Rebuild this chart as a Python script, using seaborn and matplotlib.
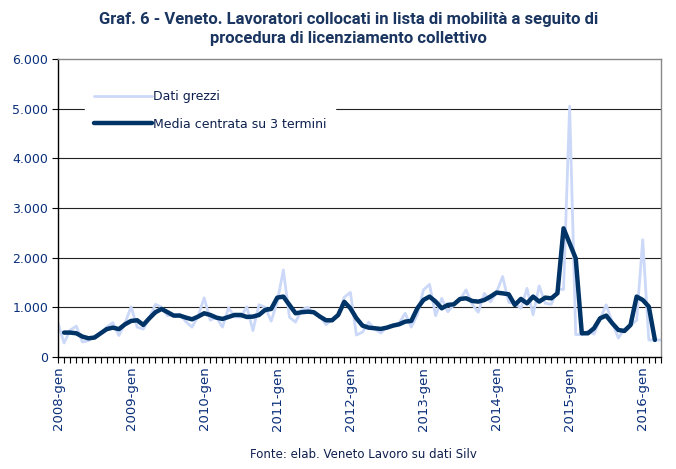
import matplotlib
matplotlib.use("Agg")
import matplotlib.pyplot as plt
from matplotlib import font_manager
from matplotlib.ticker import FuncFormatter, MultipleLocator
import pandas as pd
import seaborn as sns

# anni sull'asse x (etichette ogni 12 mesi, da gen 2008)
anni = ["2008", "2009", "2010", "2011", "2012", "2013", "2014", "2015", "2016"]

# dati grezzi mensili, gen 2008 - apr 2016
dati_grezzi = [
    680, 280, 540, 620, 300, 330, 420, 470, 600, 690, 430, 680,
    1010, 600, 560, 780, 1060, 1000, 830, 850, 860, 710, 600, 820,
    1190, 740, 800, 600, 990, 810, 800, 1010, 530, 1050, 1000, 720,
    1110, 1750, 800, 700, 950, 1000, 880, 820, 650, 750, 830, 1200,
    1300, 440, 500, 700, 560, 480, 600, 640, 680, 880, 600, 850,
    1350, 1460, 830, 1180, 910, 1050, 1150, 1350, 1060, 900, 1280, 1110,
    1300, 1620, 1100, 1080, 980, 1380, 850, 1430, 1080, 1060, 1360, 1360,
    5050, 450, 450, 520, 460, 760, 1050, 690, 380, 560, 630, 740,
    2360, 340, 340, 340,
]

# media centrata su 3 termini, feb 2008 - mar 2016
media_3 = [
    490, 490, 476, 410, 375, 390, 476, 560, 590, 560, 657,
    725, 738, 644, 778, 900, 966, 900, 832, 832, 792, 758, 812,
    879, 845, 792, 765, 805, 845, 845, 805, 812, 845, 946, 966,
    1194, 1215, 1047, 879, 900, 912, 900, 812, 738, 738, 845, 1110,
    980, 778, 630, 590, 577, 564, 590, 630, 657, 711, 725, 980,
    1147, 1215, 1114, 980, 1047, 1060, 1167, 1181, 1127, 1114, 1147, 1215,
    1295, 1281, 1261, 1047, 1168, 1080, 1215, 1114, 1194, 1181, 1282, 2590,
    2288, 1986, 476, 476, 577, 778, 832, 678, 543, 523, 644, 1215,
    1147, 1013, 342,
]

NAVY = "#003366"
TEXT_BLUE = "#0a2f7a"

sns.set_style("white")

disponibili = {f.name for f in font_manager.fontManager.ttflist}
font_titolo = "Roboto" if "Roboto" in disponibili else "DejaVu Sans"

grezzi = pd.DataFrame({"mese": range(len(dati_grezzi)), "valore": dati_grezzi})
media = pd.DataFrame({"mese": range(1, len(media_3) + 1), "valore": media_3})

fig = plt.figure(figsize=(6.76, 4.69), dpi=100)
ax = fig.add_axes([0.0858, 0.239, 0.892, 0.635])

for y in range(1000, 6000, 1000):
    ax.axhline(y, color="#222222", lw=0.8, zorder=0)

sns.lineplot(data=grezzi, x="mese", y="valore", ax=ax, color="#cbd8f8",
             lw=2.0, label="Dati grezzi", zorder=2)
sns.lineplot(data=media, x="mese", y="valore", ax=ax, color=NAVY,
             lw=3.2, label="Media centrata su 3 termini", zorder=3,
             solid_capstyle="round", solid_joinstyle="round")

ax.set_xlim(0, len(dati_grezzi) - 1)
ax.set_ylim(0, 6000)
ax.set_xlabel("")
ax.set_ylabel("")

ax.set_xticks([12 * i for i in range(len(anni))])
ax.set_xticklabels([a + "-gen" for a in anni], rotation=90, fontsize=9.5,
                   color=TEXT_BLUE)
ax.xaxis.set_minor_locator(MultipleLocator(1))
ax.tick_params(axis="x", which="both", direction="out", length=4, width=0.8,
               color="black", bottom=True, pad=3)
ax.set_yticks(range(0, 6001, 1000))
ax.yaxis.set_major_formatter(FuncFormatter(lambda v, p: f"{int(v):,}".replace(",", ".")))
ax.tick_params(axis="y", direction="out", length=4, width=0.8, color="black",
               left=True, labelsize=9, labelcolor=TEXT_BLUE, pad=3)

for side in ["left", "bottom"]:
    ax.spines[side].set_color("black")
    ax.spines[side].set_linewidth(1.0)
for side in ["top", "right"]:
    ax.spines[side].set_color("#888888")
    ax.spines[side].set_linewidth(1.0)

leg = ax.legend(loc="upper left", bbox_to_anchor=(0.035, 0.945), frameon=True,
                framealpha=1, facecolor="white", edgecolor="white",
                handlelength=4.6, handletextpad=0.1, labelspacing=1.15,
                fontsize=9, borderpad=0.7)
for t in leg.get_texts():
    t.set_color("#0d1f4d")

fig.text(0.516, 0.938,
         "Graf. 6 - Veneto. Lavoratori collocati in lista di mobilità a seguito di\n"
         "procedura di licenziamento collettivo",
         ha="center", va="center", fontsize=12, fontweight="bold",
         color="#1a3560", family=font_titolo, linespacing=1.3)
fig.text(0.538, 0.030, "Fonte: elab. Veneto Lavoro su dati Silv",
         ha="center", va="center", fontsize=8.5, color="#0d1f4d")

fig.savefig("out.png", dpi=100)
